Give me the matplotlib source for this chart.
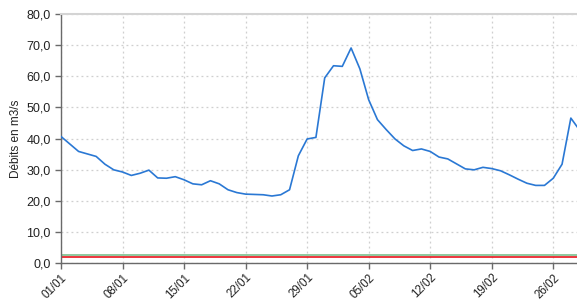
import matplotlib.pyplot as plt
import matplotlib.dates as mdates
from matplotlib.ticker import MultipleLocator, FuncFormatter
import numpy as np
import pandas as pd

plt.rcParams['font.family'] = ['Liberation Sans', 'DejaVu Sans']

# débits journaliers (m3/s) du 01/01 au 01/03
debits = [40.7, 38.3, 35.9, 35.1, 34.3, 31.8, 30.0, 29.3, 28.2, 28.9,
          29.9, 27.4, 27.3, 27.8, 26.8, 25.5, 25.2, 26.5, 25.5, 23.6,
          22.7, 22.2, 22.1, 22.0, 21.6, 22.0, 23.6, 34.5, 39.9, 40.4,
          59.5, 63.4, 63.2, 69.1, 62.4, 52.5, 46.1, 42.9, 39.9, 37.7,
          36.2, 36.7, 35.9, 34.1, 33.5, 31.9, 30.3, 30.0, 30.8, 30.4,
          29.7, 28.4, 27.0, 25.7, 25.0, 25.0, 27.3, 31.8, 46.6, 42.7]
dates = pd.date_range("2011-01-01", periods=len(debits), freq="D")

seuil_vert = 2.7
seuil_rouge = 1.9

fig = plt.figure(figsize=(5.77, 3.0), dpi=100)
ax = fig.add_axes([0.1057, 0.1223, 0.8943, 0.831])

ax.plot(dates, debits, color='#2a78d4', lw=1.2, zorder=3)
ax.axhline(seuil_vert, color='#7cbf8c', lw=1.2, zorder=2)
ax.axhline(seuil_rouge, color='#e8141c', lw=1.2, zorder=2)

ax.set_ylim(0, 80)
ax.set_xlim(dates[0], dates[0] + pd.Timedelta(days=58.7))
ax.yaxis.set_major_locator(MultipleLocator(10))
ax.yaxis.set_major_formatter(FuncFormatter(lambda v, p: f"{v:.1f}".replace('.', ',')))
ax.set_xticks(dates[::7])
ax.xaxis.set_major_formatter(mdates.DateFormatter('%d/%m'))

ax.grid(True, color='#cfcfcf', linestyle=(0, (1.5, 2.5)), lw=0.9)
ax.set_axisbelow(True)

for s in ['left', 'bottom']:
    ax.spines[s].set_color('#6a6a6a')
    ax.spines[s].set_linewidth(1.0)
ax.spines['right'].set_visible(False)
ax.spines['top'].set_color('#d4d4d4')
ax.spines['top'].set_linewidth(1.5)

ax.tick_params(axis='both', colors='#6a6a6a', labelcolor='#222222',
               labelsize=9, length=4, width=1.0)
ax.tick_params(axis='x', labelsize=8.3, pad=2)
for lab in ax.get_xticklabels():
    lab.set_rotation(45)
    lab.set_ha('right')
    lab.set_va('top')
    lab.set_rotation_mode('anchor')

ax.set_ylabel("Débits en m3/s", fontsize=8.5, color='#222222', labelpad=3)

fig.savefig("out.png", dpi=100)
